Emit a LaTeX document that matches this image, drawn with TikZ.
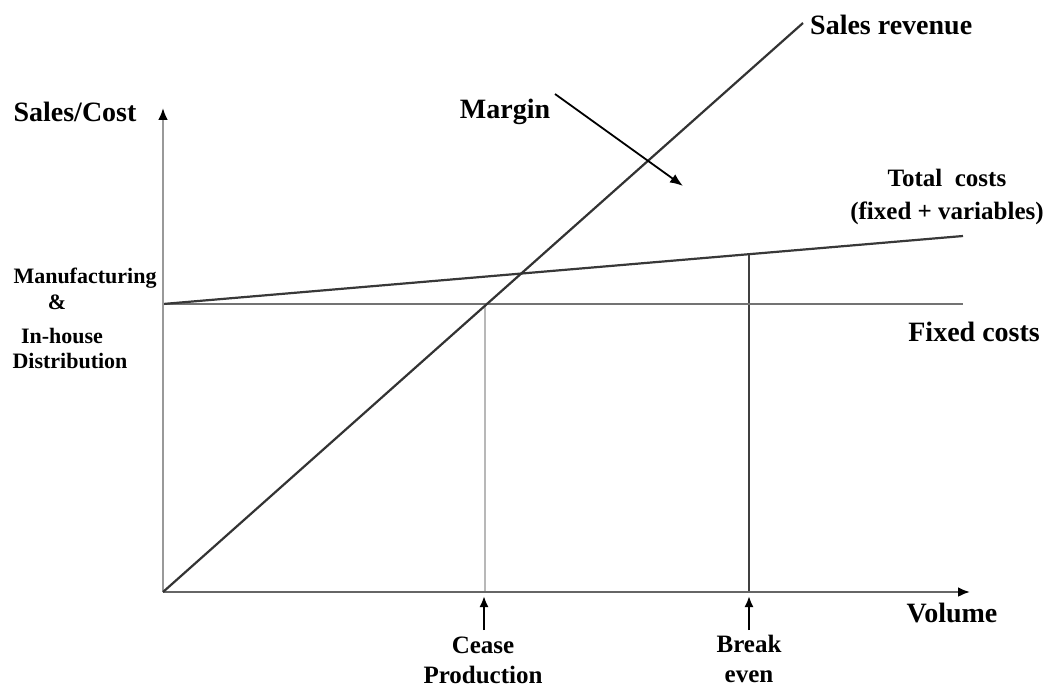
\documentclass[tikz,border=0pt]{standalone}
\usepackage{fontspec}
\setmainfont{Liberation Serif}
\usetikzlibrary{arrows.meta}
\tikzset{
  big/.style={font=\fontsize{28}{32}\selectfont\bfseries, inner sep=0pt},
  mid/.style={font=\fontsize{25}{30}\selectfont\bfseries, inner sep=0pt, align=center},
  small/.style={font=\fontsize{22}{24}\selectfont\bfseries, inner sep=0pt},
  axis/.style={line width=2.6pt, -{Latex[length=12pt,width=10pt,color=black]}},
  tick/.style={line width=2pt, black, -{Latex[length=11pt,width=9pt]}},
  curve/.style={line width=2.2pt}
}
\begin{document}
\begin{tikzpicture}[x=1pt,y=-1pt]
\useasboundingbox[fill=white] (0,0) rectangle (1043,690);
% key points
\coordinate (O) at (163,592);
\coordinate (ytip) at (163,108);
\coordinate (xtip) at (970,592);
\coordinate (F0) at (163,304);
\coordinate (Fend) at (963,304);
\coordinate (Tend) at (963,236);
\coordinate (Send) at (803,23);
\coordinate (Ctop) at (485,304);
\coordinate (Cbot) at (485,592);
\coordinate (Btop) at (749,253);
\coordinate (Bbot) at (749,592);
\coordinate (Ctail) at (484,630);
\coordinate (Ctip) at (484,596);
\coordinate (Btail) at (749,630);
\coordinate (Btip) at (749,596);
\coordinate (Mtail) at (555,94);
\coordinate (Mtip) at (683,186);
% verticals
\draw[curve, black!28] (Ctop) -- (Cbot);
\draw[curve, black!75] (Btop) -- (Bbot);
% cost lines
\draw[curve, black!55] (F0) -- (Fend);
\draw[curve, black!78] (F0) -- (Tend);
% axes
\draw[axis, black!40] (O) -- (ytip);
\draw[axis, black!60] (O) -- (xtip);
% sales revenue
\draw[curve, black!80] (O) -- (Send);
% arrows
\draw[tick] (Ctail) -- (Ctip);
\draw[tick] (Btail) -- (Btip);
\draw[tick, line width=1.8pt, -{Latex[length=13pt,width=10pt]}] (Mtail) -- (Mtip);
% labels
\node[big] (salescost) at (75,112) {Sales/Cost};
\node[big, anchor=west] (salesrev) at (810,25) {Sales revenue};
\node[big] (margin) at (505,112) {Margin};
\node[big, align=center, font=\fontsize{25}{33}\selectfont\bfseries] (total) at (947,197) {Total\ \ costs\\(fixed + variables)};
\node[big, anchor=east] (fixed) at (1040,332) {Fixed costs};
\node[big] (volume) at (952,613) {Volume};
\node[mid] (cease) at (483,660) {Cease\\Production};
\node[mid] (brk) at (749,659) {Break\\even};
\node[small] (manu) at (85,278) {Manufacturing};
\node[small] (amp) at (57,302) {\&};
\node[small] (inh) at (62,336) {In-house};
\node[small] (dist) at (70,361) {Distribution};
\end{tikzpicture}
\end{document}
